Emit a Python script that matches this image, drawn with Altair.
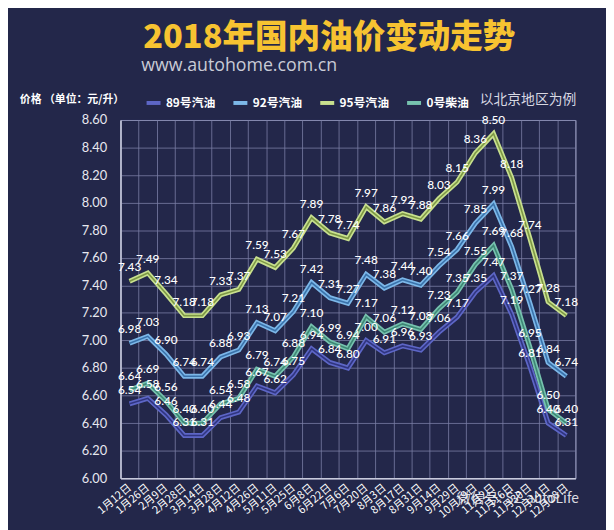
import altair as alt
import pandas as pd

dates = ["1月12日", "1月26日", "2月9日", "2月28日", "3月14日", "3月28日", "4月12日",
         "4月26日", "5月11日", "5月25日", "6月8日", "6月22日", "7月6日", "7月20日",
         "8月3日", "8月17日", "8月31日", "9月14日", "9月29日", "10月19日", "11月2日",
         "11月16日", "11月30日", "12月14日", "12月28日"]
p89 = [6.54, 6.58, 6.46, 6.31, 6.31, 6.44, 6.48, 6.67, 6.62, 6.75, 6.94, 6.84, 6.80,
       7.00, 6.91, 6.96, 6.93, 7.06, 7.17, 7.35, 7.47, 7.19, 6.81, 6.40, 6.31]
p92 = [6.98, 7.03, 6.90, 6.74, 6.74, 6.88, 6.93, 7.13, 7.07, 7.21, 7.42, 7.31, 7.27,
       7.48, 7.38, 7.44, 7.40, 7.54, 7.66, 7.85, 7.99, 7.68, 7.27, 6.84, 6.74]
p95 = [7.43, 7.49, 7.34, 7.18, 7.18, 7.33, 7.37, 7.59, 7.53, 7.67, 7.89, 7.78, 7.74,
       7.97, 7.86, 7.92, 7.88, 8.03, 8.15, 8.36, 8.50, 8.18, 7.74, 7.28, 7.18]
p0 = [6.64, 6.69, 6.56, 6.40, 6.40, 6.54, 6.58, 6.79, 6.74, 6.88, 7.10, 6.99, 6.94,
      7.17, 7.06, 7.12, 7.08, 7.23, 7.35, 7.55, 7.69, 7.37, 6.95, 6.50, 6.40]
fuels = ["89号汽油", "92号汽油", "95号汽油", "0号柴油"]
y_ticks = [6.00, 6.20, 6.40, 6.60, 6.80, 7.00, 7.20, 7.40, 7.60, 7.80, 8.00, 8.20, 8.40, 8.60]

outer_colors = ["#5d66c6", "#7cb7e8", "#c8e08e", "#76c2ae"]
inner_colors = ["#30357f", "#3a72aa", "#7d9845", "#3e8775"]

rows = []
for name, vals in zip(fuels, [p89, p92, p95, p0]):
    for d, v in zip(dates, vals):
        rows.append({"date": d, "price": v, "fuel": name})
df = pd.DataFrame(rows)

FONT = "Noto Sans CJK SC"
GRID = "#7a7ea6"

x = alt.X("date:O", sort=dates,
          scale=alt.Scale(type="band", paddingInner=0, paddingOuter=0),
          axis=alt.Axis(title=None, labelAngle=320, labelAlign="right",
                        labelBaseline="middle", labelColor="white", labelFontSize=11,
                        labelFont=FONT, tickBand="extent", grid=True, gridColor=GRID,
                        gridOpacity=0.8, ticks=False, domainColor="#c8cadc",
                        domainWidth=1.5, labelPadding=8))
y = alt.Y("price:Q", scale=alt.Scale(domain=[6.0, 8.6], nice=False, zero=False),
          axis=alt.Axis(title=None, values=y_ticks, format=".2f", labelColor="#e8e8f0",
                        labelFont="Lato", labelFontSize=13, ticks=False,
                        grid=True, gridColor=GRID, gridOpacity=0.8,
                        domainColor="#c8cadc", domainWidth=1.5, labelPadding=14))

base = alt.Chart(df)

outer = base.mark_line(strokeWidth=5, strokeJoin="miter").encode(
    x=x, y=y,
    color=alt.Color("fuel:N", sort=fuels,
                    scale=alt.Scale(domain=fuels, range=outer_colors),
                    legend=alt.Legend(title=None, orient="none", legendX=24, legendY=-27,
                                      direction="horizontal", symbolType="stroke",
                                      symbolStrokeWidth=4, symbolSize=200,
                                      labelColor="white", labelFontSize=12, labelFont=FONT,
                                      labelFontWeight="bold", columnPadding=9,
                                      labelOffset=3)),
)
inner = base.mark_line(strokeWidth=1.6, strokeJoin="miter").encode(
    x=x, y=y,
    color=alt.Color("fuel:N", sort=fuels,
                    scale=alt.Scale(domain=fuels, range=inner_colors), legend=None),
)
labels = base.mark_text(dy=-14, font="Lato", fontSize=12, fontWeight=500,
                        color="white").encode(
    x=x, y=y, text=alt.Text("price:Q", format=".2f"))


def deco(txt, xv, yv, **kw):
    return alt.Chart(pd.DataFrame({"t": [txt]})).mark_text(**kw).encode(
        text="t:N", x=alt.value(xv), y=alt.value(yv))


title = deco("2018年国内油价变动走势", 23, -83, font=FONT, fontSize=33,
             fontWeight=900, color="#f7c331", align="left", baseline="middle")
subtitle = deco("www.autohome.com.cn", 21, -55, font="Open Sans", fontSize=18,
                color="#c9cbd6", align="left", baseline="middle")
unit = deco("价格 （单位：元/升）", -102, -20, font=FONT, fontSize=11, fontWeight="bold",
            color="white", align="left", baseline="middle")
region = deco("以北京地区为例", 364, -20, font=FONT, fontSize=14, color="#d8d8e2",
              align="left", baseline="middle")
watermark = deco("微信号: SZ-autoLife", 341, 384, font=FONT, fontSize=14,
                 color="#f0f0f5", opacity=0.9, align="left", baseline="middle")

lines = alt.layer(outer, inner).resolve_scale(color="independent")

chart = alt.layer(lines, labels, title, subtitle, unit, region,
                  watermark).properties(
    width=461, height=363,
    autosize=alt.AutoSizeParams(type="none"),
    padding={"left": 114, "top": 110, "right": 31, "bottom": 49},
    background="#23274a",
).configure_view(stroke="#a8abc8", strokeWidth=1)

chart.save("out.html", embed_options={"renderer": "svg", "actions": False})
